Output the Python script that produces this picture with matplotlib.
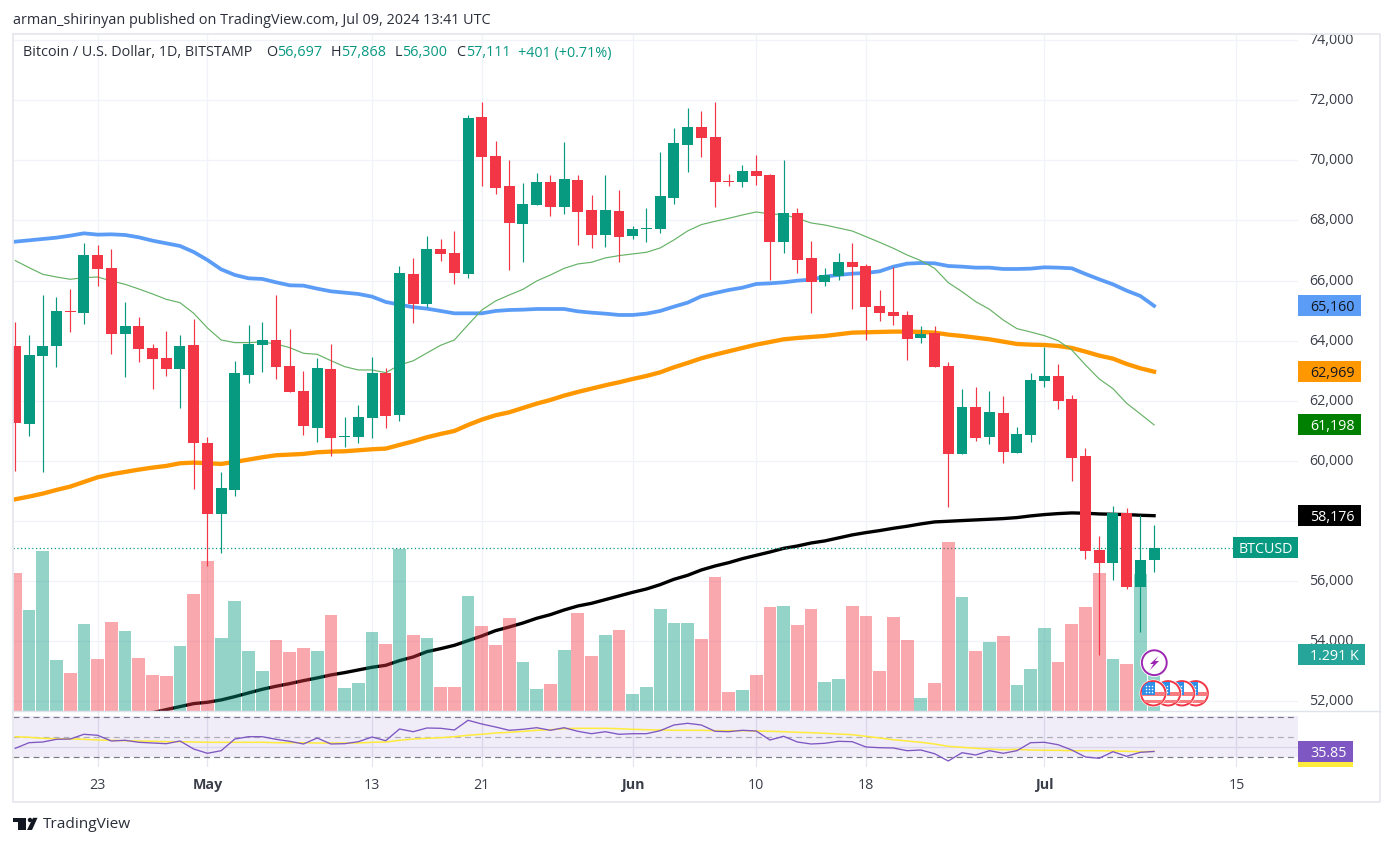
import numpy as np
import matplotlib
matplotlib.use("Agg")
import matplotlib.pyplot as plt
from matplotlib.patches import Rectangle, Circle, Polygon
from matplotlib.transforms import ScaledTranslation

# daily candles, 17 Apr - 9 Jul 2024
opens = [63825, 61230, 63492, 63825, 64989, 64923, 66852, 66420, 64224, 64490,
         63758, 63425, 63059, 63858, 60598, 58235, 59034, 62860, 63858, 64024,
         63159, 62328, 61097, 63059, 60797, 60797, 61429, 62926, 61529, 66220,
         65223, 67053, 66920, 66221, 71445, 70147, 69149, 67885, 68517, 69282,
         68450, 69349, 68351, 67519, 68317, 67486, 67719, 67719, 68750, 70513,
         71112, 70779, 69315, 69282, 69648, 69515, 67286, 68251, 66752, 65954,
         66154, 66619, 66486, 65155, 64956, 64856, 64091, 64257, 63159, 60232,
         61795, 60797, 61596, 60265, 60864, 62660, 62827, 62061, 60165, 57038,
         56605, 58269, 55807, 56697]
closes = [61263, 63525, 63825, 64989, 64956, 66852, 66386, 64224, 64490, 63725,
          63392, 63059, 63825, 60598, 58235, 59100, 62926, 63891, 64024, 63126,
          62294, 61163, 63093, 60764, 60830, 61463, 62926, 61496, 66253, 65222,
          67053, 66887, 66255, 71411, 70114, 69083, 67918, 68550, 69282, 68450,
          69382, 68284, 67519, 68351, 67452, 67719, 67752, 68816, 70580, 71112,
          70746, 69282, 69282, 69648, 69482, 67286, 68251, 66687, 65954, 66187,
          66619, 66453, 65122, 64923, 64823, 64058, 64224, 63126, 60232, 61795,
          60764, 61629, 60298, 60897, 62693, 62827, 61995, 60098, 57004, 56605,
          58269, 55807, 56705, 57111]
highs = [64623, 64191, 65521, 65455, 65721, 67251, 67185, 67052, 65289, 64790,
         63891, 64324, 64191, 64723, 60797, 59633, 63326, 64523, 64623, 65521,
         64390, 62993, 63425, 63891, 61463, 61862, 63459, 63093, 66486, 66752,
         67486, 67386, 67652, 71511, 71944, 70646, 70014, 69249, 69582, 69515,
         70613, 69515, 68850, 69515, 69016, 67818, 68417, 70280, 71079, 71744,
         71644, 71944, 69548, 69848, 70180, 69548, 70014, 68417, 67318, 66420,
         66919, 67252, 66553, 65688, 66453, 64989, 64490, 64490, 63292, 62394,
         62461, 62328, 62161, 61130, 62926, 63791, 63226, 62194, 60431, 57503,
         58501, 58435, 58202, 57868]
lows = [59677, 60830, 59633, 63126, 64290, 64557, 65821, 63559, 62793, 63292,
        62394, 62827, 61762, 59067, 56503, 56945, 58834, 62594, 62960, 62727,
        62294, 60864, 60631, 60165, 60464, 60598, 60764, 61097, 61329, 64590,
        65134, 66654, 65889, 66088, 69149, 68883, 66354, 66620, 68517, 68151,
        68218, 67186, 67086, 67120, 66620, 67386, 67286, 67585, 68550, 69615,
        70114, 68450, 69149, 69116, 69182, 66022, 66920, 66255, 64923, 65821,
        66020, 65056, 64024, 64656, 64523, 63359, 63925, 63126, 58468, 60232,
        60664, 60564, 59932, 60265, 60631, 62461, 61729, 59333, 56738, 53541,
        56039, 55740, 54316, 56300]
volumes = [3180, 2327, 3686, 1175, 876, 2004, 1198, 2051, 1843, 1221,
           829, 806, 1498, 2696, 3456, 1682, 2534, 1382, 922, 1636,
           1359, 1452, 1382, 2212, 530, 645, 1820, 1544, 3732, 1751,
           1682, 553, 553, 2650, 1958, 1521, 2143, 1129, 507, 622,
           1405, 2258, 1267, 1751, 1866, 392, 553, 2350, 2028, 2028,
           1659, 3087, 438, 484, 829, 2396, 2419, 1981, 2350, 668,
           737, 2419, 2189, 922, 2166, 1636, 300, 645, 3894, 2627,
           1382, 1590, 1728, 599, 968, 1912, 1129, 2004, 2396, 3180,
           1198, 1083, 3156, 1291]

# moving averages
ma_blue = [67296, 67340, 67385, 67429, 67495, 67573, 67529, 67540, 67518, 67440,
           67329, 67240, 67152, 66952, 66686, 66375, 66187, 66076, 66054, 65943,
           65843, 65832, 65732, 65643, 65599, 65555, 65466, 65289, 65200, 65115,
           65066, 64989, 64911, 64911, 64911, 64989, 65022, 65033, 65055, 65055,
           65055, 64977, 64933, 64900, 64856, 64856, 64900, 64989, 65133, 65266,
           65477, 65587, 65687, 65765, 65887, 65909, 65942, 65998, 66031, 66131,
           66187, 66231, 66253, 66309, 66464, 66564, 66586, 66575, 66486, 66464,
           66431, 66431, 66386, 66386, 66398, 66442, 66431, 66409, 66220, 66043,
           65876, 65666, 65488, 65160]
ma_orange = [58723, 58812, 58912, 59034, 59145, 59300, 59455, 59555, 59633, 59710,
             59777, 59832, 59921, 59943, 59921, 59899, 59965, 60043, 60121, 60187,
             60209, 60232, 60287, 60309, 60320, 60353, 60387, 60409, 60531, 60650,
             60786, 60897, 60996, 61196, 61374, 61518, 61617, 61762, 61906, 62028,
             62172, 62294, 62405, 62516, 62616, 62726, 62826, 62948, 63115, 63259,
             63414, 63536, 63647, 63758, 63869, 63957, 64046, 64090, 64124, 64157,
             64213, 64268, 64279, 64291, 64302, 64302, 64291, 64268, 64202, 64157,
             64102, 64046, 63969, 63891, 63869, 63858, 63825, 63758, 63636, 63503,
             63403, 63226, 63082, 62969]
ma_black = [np.nan, np.nan, np.nan, np.nan, np.nan, np.nan, np.nan, np.nan, np.nan, np.nan,
            51620, 51723, 51823, 51923, 51967, 52045, 52156, 52278, 52400, 52500,
            52588, 52688, 52777, 52877, 52954, 53043, 53132, 53198, 53353, 53475,
            53652, 53752, 53863, 54018, 54174, 54351, 54473, 54606, 54762, 54884,
            55039, 55172, 55261, 55383, 55505, 55627, 55737, 55882, 56059, 56192,
            56370, 56503, 56614, 56747, 56858, 56968, 57090, 57168, 57268, 57337,
            57437, 57537, 57614, 57681, 57758, 57825, 57903, 57969, 57991, 58014,
            58036, 58058, 58080, 58113, 58169, 58213, 58246, 58269, 58258, 58235,
            58224, 58213, 58191, 58176]
ma_green = [66664, 66431, 66209, 66120, 66043, 66098, 66120, 65987, 65876, 65721,
            65555, 65377, 65266, 64912, 64424, 64024, 63936, 63936, 63958, 63891,
            63769, 63581, 63547, 63337, 63137, 63026, 63026, 62937, 63192, 63330,
            63591, 63847, 64024, 64530, 65022, 65321, 65521, 65709, 65987, 66186,
            66408, 66554, 66610, 66754, 66831, 66887, 66942, 67086, 67352, 67652,
            67863, 67973, 68073, 68184, 68284, 68217, 68195, 68073, 67918, 67850,
            67750, 67650, 67462, 67274, 67074, 66852, 66664, 66409, 65932, 65632,
            65300, 65045, 64690, 64401, 64290, 64168, 64002, 63692, 63193, 62727,
            62405, 61917, 61562, 61198]

# rsi pane
rsi = [39.0, 44.6, 45.3, 48.0, 48.3, 53.0, 52.0, 46.3, 47.0, 45.0,
       44.3, 43.6, 46.3, 38.3, 34.0, 36.6, 48.3, 50.6, 50.6, 48.0,
       46.0, 43.3, 49.3, 43.3, 43.6, 45.6, 50.3, 46.6, 58.3, 55.6,
       59.3, 59.0, 57.3, 67.0, 63.3, 60.3, 57.0, 58.0, 59.6, 57.0,
       59.6, 56.0, 53.6, 55.6, 53.0, 53.6, 53.6, 56.6, 62.3, 64.0,
       62.3, 56.0, 55.6, 57.0, 56.3, 47.3, 51.0, 45.3, 43.3, 44.0,
       46.0, 45.6, 40.3, 39.6, 39.3, 36.6, 37.3, 33.6, 26.3, 34.6,
       32.3, 36.6, 34.0, 36.6, 44.6, 45.0, 42.6, 37.3, 30.3, 29.0,
       35.6, 31.0, 35.0, 35.85]
rsi_ma = [50.6, 50.0, 49.0, 48.6, 48.3, 48.0, 47.3, 47.0, 46.6, 46.3,
          46.0, 45.6, 45.6, 45.3, 45.0, 45.0, 45.0, 45.0, 45.0, 44.6,
          44.6, 44.6, 44.3, 44.3, 44.3, 44.3, 45.0, 45.3, 47.0, 48.3,
          49.0, 49.6, 50.6, 52.0, 53.0, 54.3, 55.0, 56.0, 57.0, 57.6,
          58.6, 59.0, 59.0, 59.0, 58.6, 58.0, 57.6, 57.3, 57.0, 57.0,
          57.0, 56.6, 56.6, 56.6, 56.3, 56.0, 55.6, 55.0, 54.6, 54.0,
          53.3, 52.6, 51.0, 49.3, 47.6, 46.3, 45.0, 43.3, 41.0, 40.0,
          39.0, 38.3, 37.6, 37.9, 37.3, 37.0, 37.0, 36.6, 36.6, 36.6,
          36.3, 36.0, 35.6, 35.9]

price_ticks = list(range(52000, 76000, 2000))
hidden_tick = 58000  # sits under the black MA label
date_ticks = [6, 14, 26, 34, 45, 54, 62, 75, 89]
date_labels = ["23", "May", "13", "21", "Jun", "10", "18", "Jul", "15"]
month_labels = ["May", "Jun", "Jul"]

UP = "#089981"
DOWN = "#f23645"
GRID = "#f0f3fa"
BORDER = "#e6e8ef"
TEXT = "#3a3e49"
W, H = 1393, 846
FONT = "Open Sans"

plt.rcParams["font.family"] = [FONT, "DejaVu Sans"]
fig = plt.figure(figsize=(W / 100, H / 100), dpi=100, facecolor="white")


def px_axes(left, top, right, bottom):
    new_ax = fig.add_axes([left / W, 1 - bottom / H, (right - left) / W, (bottom - top) / H])
    for s in new_ax.spines.values():
        s.set_visible(False)
    return new_ax


def value_label(axis, value, text, color, textcolor, span, width=63, anchor=1):
    # box on the price scale, span is its height in axis units
    trans = axis.get_yaxis_transform()
    box_w = width / 1285
    x0 = 1.0 if anchor == 1 else 1.0 - box_w
    axis.add_patch(Rectangle((x0, value - span / 2), box_w, span, transform=trans,
                             color=color, lw=0, clip_on=False, zorder=20))
    axis.text(x0 + 12 / 1285 if anchor == 1 else x0 + box_w / 2, value, text, transform=trans,
              color=textcolor, fontsize=10.3, va="center_baseline",
              ha="left" if anchor == 1 else "center", clip_on=False, zorder=21)


x = np.arange(len(closes))
xlim = (-0.17, 93.49)
ylim = (51677, 74206)
o, c, h, l = map(np.array, (opens, closes, highs, lows))
is_up = c >= o
vol_colors = np.where(is_up, UP, DOWN)

# lines and grid at the bottom
ax = px_axes(13, 34, 1298, 711)
ax.set_xlim(xlim)
ax.set_ylim(ylim)
ax.yaxis.tick_right()
ax.set_yticks(price_ticks)
ax.set_yticklabels(["" if p == hidden_tick else f"{p:,}" for p in price_ticks],
                   fontsize=10.3, color=TEXT)
ax.tick_params(axis="y", length=0, pad=8)
nudge = ScaledTranslation(0, 1.5 / 100, fig.dpi_scale_trans)
for t in ax.get_yticklabels():
    t.set_transform(t.get_transform() + nudge)
ax.set_xticks(date_ticks)
ax.tick_params(axis="x", length=0, labelbottom=False)
ax.grid(True, color=GRID, lw=0.9)
ax.set_axisbelow(True)
ax.plot(x, ma_blue, color="#5b9cf6", lw=2.7, solid_joinstyle="round")
ax.plot(x, ma_orange, color="#ff9800", lw=3.1, solid_joinstyle="round")
ax.plot(x, ma_black, color="black", lw=2.4, solid_joinstyle="round")
ax.plot(x, ma_green, color="#66b266", lw=0.85)
ax.axhline(closes[-1], color=UP, lw=0.9, ls=(0, (1, 2)))

# volume goes over the lines, under the candles
vol_ax = px_axes(13, 34, 1298, 711)
vol_ax.patch.set_alpha(0)
vol_ax.set_xlim(xlim)
vol_ax.set_ylim(0, 15605)
vol_ax.bar(x, volumes, width=0.93, color=vol_colors, alpha=0.43, lw=0)
vol_ax.set_xticks([])
vol_ax.set_yticks([])
value_label(vol_ax, volumes[-1], "1.291 K", "#26a69a", "white", 21 * 23.05, width=67)

candle_ax = px_axes(13, 34, 1298, 711)
candle_ax.patch.set_alpha(0)
candle_ax.set_xlim(xlim)
candle_ax.set_ylim(ylim)
candle_ax.set_xticks([])
candle_ax.set_yticks([])
candle_colors = np.where(is_up, UP, DOWN)
candle_ax.vlines(x, l, h, colors=candle_colors, lw=0.85)
candle_ax.bar(x, np.maximum(np.abs(c - o), 33), bottom=np.minimum(o, c), width=0.8,
              color=candle_colors, lw=0)

span = 21 / 0.03005
value_label(candle_ax, ma_blue[-1], "65,160", "#5b9cf6", "#131722", span)
value_label(candle_ax, ma_orange[-1], "62,969", "#ff9800", "#131722", span)
value_label(candle_ax, ma_green[-1], "61,198", "#008000", "white", span)
value_label(candle_ax, ma_black[-1], "58,176", "black", "white", span)
value_label(candle_ax, closes[-1], "BTCUSD", UP, "white", span, width=65, anchor=0)

# rsi pane, 1 point is 1 px
rsi_ax = px_axes(13, 711, 1298, 767)
rsi_ax.set_xlim(xlim)
rsi_ax.set_ylim(20.3, 76.3)
rsi_ax.axhspan(30, 71, color="#7e57c2", alpha=0.11, lw=0)
rsi_ax.set_yticks([40])
rsi_ax.tick_params(axis="y", length=0, labelright=False, labelleft=False)
rsi_ax.grid(True, color="#e7e6f0", lw=0.9)
rsi_ax.set_axisbelow(True)
for level, a in [(70, 1), (50, 0.55), (30, 1)]:
    rsi_ax.axhline(level, color="#787b86", lw=0.85, ls=(0, (5, 3.5)), alpha=a)
rsi_ax.plot(x, rsi_ma, color="#ffeb3b", lw=1.1)
rsi_ax.plot(x, rsi, color="#7e57c2", lw=0.95)
rsi_ax.set_xticks(date_ticks)
rsi_ax.set_xticklabels(date_labels, fontsize=10.3, color=TEXT)
rsi_ax.tick_params(axis="x", length=0, pad=7.6)
for t in rsi_ax.get_xticklabels():
    if t.get_text() in month_labels:
        t.set_fontweight("bold")
strip_box = rsi_ax.get_yaxis_transform()
rsi_ax.add_patch(Rectangle((1.0, 20.3), 55 / 1285, 6, transform=strip_box, color="#ffeb3b",
                           lw=0, clip_on=False))
value_label(rsi_ax, rsi[-1], "35.85", "#7e57c2", "white", 21, width=55)

# frame, header, event icons and logo drawn in pixel coordinates
deco = px_axes(0, 0, W, H)
deco.patch.set_alpha(0)
deco.set_xlim(0, W)
deco.set_ylim(H, 0)
deco.set_xticks([])
deco.set_yticks([])
deco.plot([13, 1380, 1380, 13, 13], [34, 34, 802, 802, 34], color=BORDER, lw=1.3)
deco.plot([13, 1380], [711, 711], color="#e0e3eb", lw=1.0)

deco.text(13, 20, "arman_shirinyan published on TradingView.com, Jul 09, 2024 13:41 UTC",
          fontsize=10.4, color="#2a2e39", va="center")
header = [(23, "Bitcoin / U.S. Dollar, 1D, BITSTAMP", "#2a2e39"),
          (266.5, "O", "#2a2e39"), (277, "56,697", UP),
          (330.5, "H", "#2a2e39"), (341, "57,868", UP),
          (395, "L", "#2a2e39"), (402, "56,300", UP),
          (456, "C", "#2a2e39"), (466.5, "57,111", UP),
          (518, "+401 (+0.71%)", UP)]
for hx, label, col in header:
    deco.text(hx, 53, label, fontsize=10.4, color=col, va="center")

# lightning marker
deco.add_patch(Circle((1154.3, 662.7), 14.2, color="white", lw=0, zorder=5))
deco.add_patch(Circle((1154.3, 662.7), 12.4, fc="white", ec="#9c27b0", lw=1.4, zorder=6))
deco.add_patch(Polygon([(1158.5, 656), (1150, 664), (1153.5, 664), (1150, 670), (1159, 661),
                        (1155, 661)], color="#9c27b0", lw=0, zorder=7))

# flag markers, the left one in front
for i, fx in enumerate([1195.7, 1182, 1168, 1153.3]):
    z = 8 + i * 4
    deco.add_patch(Circle((fx, 693.3), 13.8, color="white", lw=0, zorder=z))
    disc = Circle((fx, 693.3), 12.2, fc="white", ec="#f23645", lw=1.4, zorder=z)
    deco.add_patch(disc)
    for sy, sh in [(691.7, 4), (700, 3.2)]:
        st = Rectangle((fx - 13, sy), 26, sh, color="#f77c80", lw=0, zorder=z + 1)
        deco.add_patch(st)
        st.set_clip_path(disc)
    can = Rectangle((fx - 11, 682.5), 13, 12.5, color="#2f8fe8", lw=0, zorder=z + 2)
    deco.add_patch(can)
    can.set_clip_path(disc)
    stars = deco.scatter(np.repeat([fx - 7, fx - 4, fx - 1], 3), np.tile([686, 689, 692], 3),
                         s=1.2, color="white", lw=0, zorder=z + 3)

# logo
deco.add_patch(Polygon([(13.3, 817.8), (26, 817.8), (26, 830), (18, 830), (18, 821.8), (13.3, 821.8)],
                       color="#131722", lw=0))
deco.add_patch(Circle((30, 820), 2.2, color="#131722", lw=0))
deco.add_patch(Polygon([(33, 817.8), (37.5, 817.8), (32, 830), (27, 830)], color="#131722", lw=0))
deco.text(43, 825, "TradingView", fontsize=11.1, color="#2a2e39", va="center")

fig.savefig("out.png", dpi=100)
